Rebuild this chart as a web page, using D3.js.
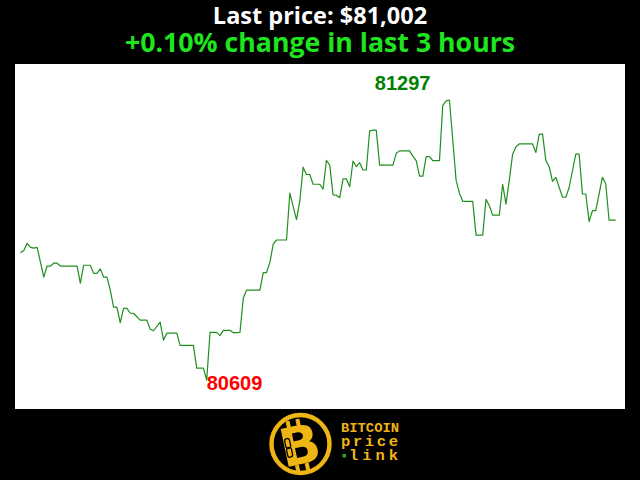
<!DOCTYPE html>
<html>
<head>
<meta charset="utf-8">
<script src="https://cdn.jsdelivr.net/npm/d3@7"></script>
<style>
html,body{margin:0;padding:0;background:#000;}
svg{display:block;}
</style>
</head>
<body>
<svg id="chart" width="640" height="480"></svg>
<script>
// ---- data ----
const titleLine1 = "Last price: $81,002";
const titleLine2 = "+0.10% change in last 3 hours";
const minutes = [0,1,2,3,4,5,7,8,9,10,11,12,17,18,19,21,22,23,24,25,26,27,28,29,30,31,32,33,34,36,
  38,39,40,42,43,44,47,48,52,53,55,56,57,59,60,61,63,64,66,67,68,72,73,74,75,76,77,80,81,83,
  84,85,86,87,88,90,91,92,93,94,95,96,97,98,99,100,101,102,103,104,105,106,107,108,112,113,114,117,118,119,
  120,121,122,123,124,126,127,128,129,131,132,133,136,137,139,140,141,142,144,145,146,147,148,149,150,154,155,156,157,158,
  159,160,161,163,164,165,167,168,169,170,171,172,173,175,176,177,179];
const prices = [80922,80927,80945,80935,80933,80935,80862,80889,80889,80896,80896,80889,80889,80847,80891,80891,80871,80871,80882,80862,80862,80830,80788,80788,80750,80785,80785,80773,80773,80756,
  80756,80734,80730,80751,80707,80724,80724,80694,80694,80638,80638,80609,80726,80726,80718,80731,80731,80725,80726,80810,80830,80830,80873,80873,80898,80943,80953,80953,81068,81003,
  81049,81132,81114,81114,81090,81090,81078,81149,81137,81064,81063,81057,81103,81103,81084,81147,81133,81143,81125,81125,81221,81223,81223,81137,81137,81166,81172,81172,81159,81148,
  81110,81110,81158,81158,81148,81148,81284,81295,81297,81100,81068,81048,81048,80965,80965,81053,81037,81014,81014,81090,81041,81100,81164,81182,81189,81189,81168,81213,81213,81148,
  81133,81097,81107,81058,81058,81082,81164,81164,81066,81066,80998,81025,81025,81107,81092,81002,81002];
const logoWords = ["BITCOIN", "price", "link"];

// ---- drawing ----
const svg = d3.select("#chart");
svg.append("rect").attr("width",640).attr("height",480).attr("fill","#000");

svg.append("text").attr("x",320).attr("y",24).attr("text-anchor","middle")
  .attr("font-family","'Open Sans', sans-serif").attr("font-weight","bold")
  .attr("font-size",23.5).attr("fill","#fff").text(titleLine1);
svg.append("text").attr("x",320).attr("y",52).attr("text-anchor","middle")
  .attr("font-family","'Open Sans', sans-serif").attr("font-weight","bold")
  .attr("font-size",26.7).attr("fill","#1fe51f").text(titleLine2);

// plot area
svg.append("rect").attr("x",15).attr("y",64).attr("width",610).attr("height",345).attr("fill","#fff");

const data = minutes.map((m,i)=>({m, p: prices[i]}));
const minP = d3.min(prices), maxP = d3.max(prices);
const x = d3.scaleLinear().domain([0,179]).range([20.5,615.7]);
const y = d3.scaleLinear().domain([minP, maxP]).range([380,100]);

svg.append("path").datum(data)
  .attr("fill","none").attr("stroke","#1f8f1f").attr("stroke-width",1.2)
  .attr("stroke-linejoin","round")
  .attr("d", d3.line().x(d=>x(d.m)).y(d=>y(d.p)));

const minD = data.find(d=>d.p===minP);
const maxD = data.find(d=>d.p===maxP);
svg.append("text").attr("x",x(minD.m)).attr("y",y(minP)+10)
  .attr("font-family","'Liberation Sans', Arial, sans-serif").attr("font-weight","bold")
  .attr("font-size",20).attr("fill","#ff0000").text(String(minP));
svg.append("text").attr("x",x(maxD.m)-19).attr("y",y(maxP)-10).attr("text-anchor","end")
  .attr("font-family","'Liberation Sans', Arial, sans-serif").attr("font-weight","bold")
  .attr("font-size",20).attr("fill","#008000").text(String(maxP));

// logo
const gold = "#efb514";
const logo = svg.append("g");
logo.append("circle").attr("cx",300.5).attr("cy",444).attr("r",29).attr("fill","none")
  .attr("stroke",gold).attr("stroke-width",4.5);
const bg = logo.append("g").attr("transform","translate(300,446) rotate(-12)");
bg.append("rect").attr("x",-9).attr("y",-27).attr("width",4).attr("height",8).attr("fill",gold);
bg.append("rect").attr("x",1).attr("y",-27).attr("width",4).attr("height",8).attr("fill",gold);
bg.append("rect").attr("x",-9).attr("y",18).attr("width",4).attr("height",8).attr("fill",gold);
bg.append("rect").attr("x",1).attr("y",18).attr("width",4).attr("height",8).attr("fill",gold);
bg.append("text").attr("x",0).attr("y",18).attr("text-anchor","middle")
  .attr("font-family","'DejaVu Sans', sans-serif").attr("font-weight","bold")
  .attr("font-size",53).attr("fill",gold).text("B");
bg.append("rect").attr("x",-14).attr("y",-10).attr("width",5).attr("height",10).attr("rx",2.5)
  .attr("fill","none").attr("stroke","#000").attr("stroke-width",1.3);
bg.append("rect").attr("x",-14).attr("y",-1).attr("width",5).attr("height",10).attr("rx",2.5)
  .attr("fill","none").attr("stroke","#000").attr("stroke-width",1.3);

const mono = "'Liberation Mono', 'DejaVu Sans Mono', monospace";
logo.append("text").attr("x",341).attr("y",432).attr("font-family",mono).attr("font-weight","bold")
  .attr("font-size",13).attr("fill",gold).attr("textLength",58).attr("lengthAdjust","spacingAndGlyphs").text(logoWords[0]);
logo.append("text").attr("x",341).attr("y",446).attr("font-family",mono).attr("font-weight","bold")
  .attr("font-size",15.5).attr("fill",gold).attr("textLength",57).attr("lengthAdjust","spacing").text(logoWords[1]);
logo.append("rect").attr("x",342.5).attr("y",454).attr("width",3.5).attr("height",3.5).attr("fill","#2fa02f");
logo.append("text").attr("x",349).attr("y",460).attr("font-family",mono).attr("font-weight","bold")
  .attr("font-size",15.5).attr("fill",gold).attr("textLength",49).attr("lengthAdjust","spacing").text(logoWords[2]);
</script>
</body>
</html>
